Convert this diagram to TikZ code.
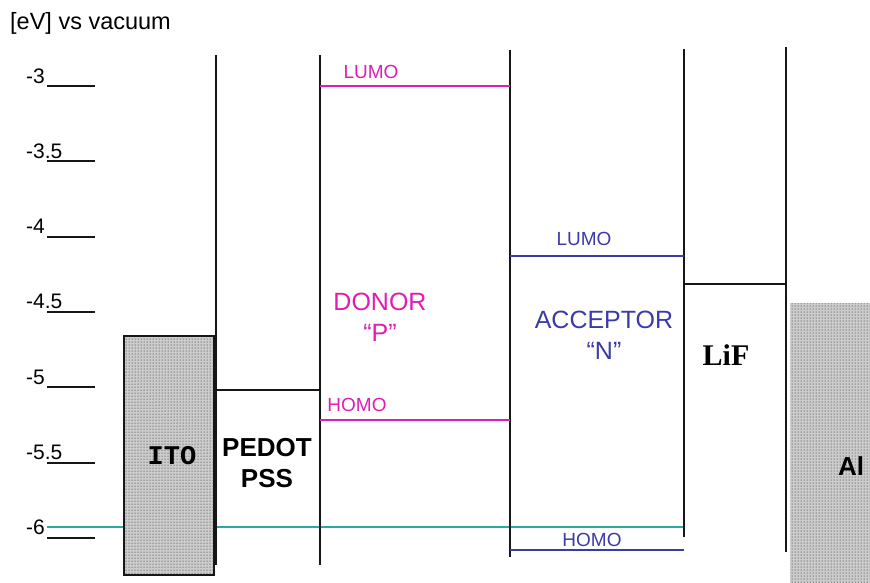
\documentclass[tikz,border=0pt]{standalone}
\usepackage{fontspec}
\setmainfont{Liberation Sans}
\newfontfamily\seriffont{Liberation Serif}
\newfontfamily\typefont{Liberation Mono}
\usetikzlibrary{patterns}
\definecolor{Ink}{HTML}{161616}
\definecolor{Donor}{HTML}{E01DB0}
\definecolor{Acceptor}{HTML}{3B3BA8}
\definecolor{Teal}{HTML}{2AA8A2}
\tikzset{
  wall/.style={line width=2pt,draw=Ink},
  tickline/.style={line width=2pt,draw=Ink},
  level/.style={line width=2pt},
  electrode/.style={preaction={fill=Ink!22},pattern=dots,pattern color=Ink},
  tag/.style={inner sep=0pt,font=\fontsize{19}{22}\selectfont},
  layername/.style={inner sep=0pt,align=center,font=\fontsize{25}{31}\selectfont},
}

\begin{document}
\begin{tikzpicture}[x=1pt,y=-1pt]
    \useasboundingbox (0,0) rectangle (870,582);

    \node[anchor=west,inner sep=0pt,font=\fontsize{23.5}{28}\selectfont] (unit) at (10,23) {[eV] vs vacuum};

    % energy scale
    \foreach \lab [count=\i from 0] in {-3,-3.5,-4,-4.5,-5,-5.5,-6} {
      \draw[tickline] (47,{86+75.33*\i}) -- (95,{86+75.33*\i});
      \node[anchor=base west,inner sep=0pt,font=\fontsize{21}{24}\selectfont] (tick\i) at (26,{83+75.33*\i}) {\lab};
    }

    \draw[level,Teal] (47,527) -- (684,527);

    % electrodes
    \path[electrode] (124,336) rectangle (214,575);
    \draw[line width=1.4pt,draw=Ink] (124,336) rectangle (214,575);
    \path[electrode] (790,303) rectangle (872,584);

    % layer walls
    \draw[wall] (216,55) -- (216,565);
    \draw[wall] (320,55) -- (320,565);
    \draw[wall] (510,50) -- (510,557);
    \draw[wall] (684,49) -- (684,537);
    \draw[wall] (786,47) -- (786,552);

    % levels
    \draw[level,Ink] (216,390) -- (320,390);
    \draw[level,Donor] (320,86) -- (510,86);
    \draw[level,Donor] (320,420) -- (510,420);
    \draw[level,Acceptor] (510,256) -- (684,256);
    \draw[level,Acceptor] (510,550) -- (684,550);
    \draw[level,Ink] (684,284) -- (786,284);

    \node[tag,text=Donor] (lumoP) at (371,72) {LUMO};
    \node[tag,text=Donor] (homoP) at (357,405) {HOMO};
    \node[tag,text=Acceptor] (lumoN) at (584,239) {LUMO};
    \node[tag,text=Acceptor] (homoN) at (592,540) {HOMO};

    \node[layername,text=Donor] (donor) at (380,317) {DONOR\\``P''};
    \node[layername,text=Acceptor] (acceptor) at (604,335) {ACCEPTOR\\``N''};
    \node[layername,font=\fontsize{26}{31}\selectfont\bfseries] (pedot) at (267,463) {PEDOT\\PSS};
    \node[inner sep=0pt,font=\fontsize{27}{30}\selectfont\typefont\bfseries] (ito) at (172,456) {ITO};
    \node[inner sep=0pt,font=\fontsize{30}{34}\selectfont\seriffont\bfseries] (lif) at (726,355) {LiF};
    \node[inner sep=0pt,font=\fontsize{26}{30}\selectfont\bfseries] (al) at (851,466) {Al};
  \end{tikzpicture}
\end{document}
